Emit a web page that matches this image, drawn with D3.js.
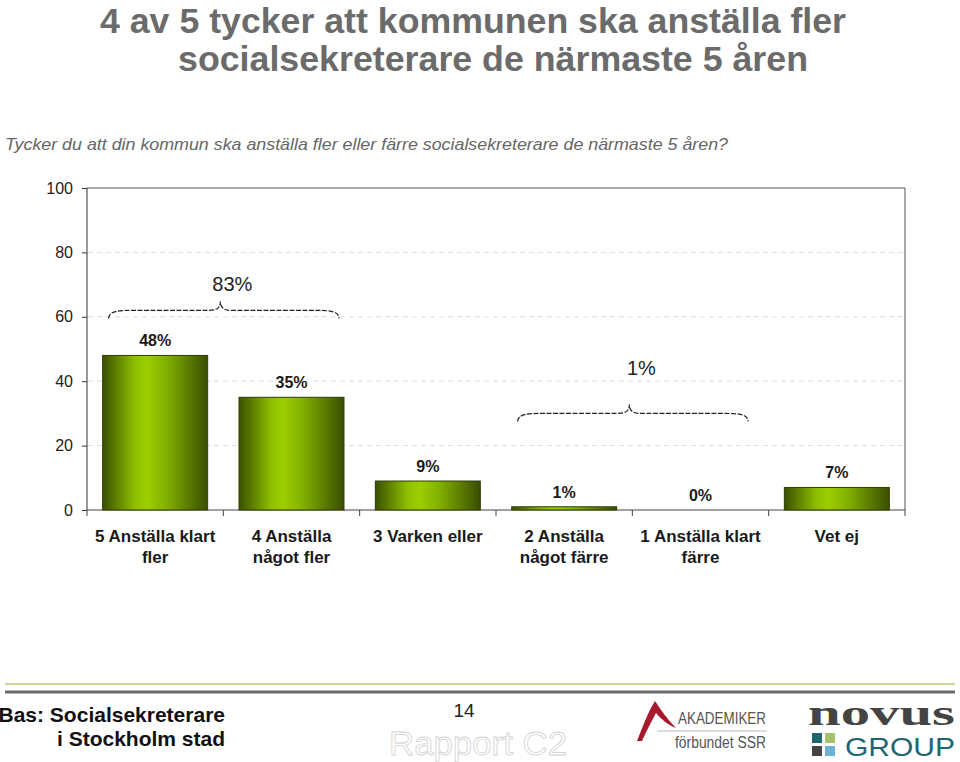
<!DOCTYPE html>
<html><head><meta charset="utf-8">
<script src="https://cdn.jsdelivr.net/npm/d3@7"></script>
<style>body{margin:0;background:#fff}svg{display:block}</style>
</head><body>
<script>
const categories = [["5 Anställa klart","fler"],["4 Anställa","något fler"],["3 Varken eller"],["2 Anställa","något färre"],["1 Anställa klart","färre"],["Vet ej"]];
const values = [48, 35, 9, 1, 0, 7];
const valueLabels = ["48%","35%","9%","1%","0%","7%"];
const yTicks = [0,20,40,60,80,100];
const groups = [{from:0,to:1,label:"83%"},{from:3,to:4,label:"1%"}];
const groupLevel = [59.5, 27.5];
const groupLabelLevel = [68, 42];

const W=960,H=762;
const svg=d3.select("body").append("svg").attr("width",W).attr("height",H);
const narrow="'Liberation Sans Narrow','Arial Narrow',Arial,sans-serif";
const sans="Arial,'Liberation Sans',sans-serif";

// title
svg.append("text").attr("x",473).attr("y",33).attr("text-anchor","middle")
  .attr("font-family",narrow).attr("font-weight","bold").attr("font-size",35).attr("fill","#6b6b6b")
  .attr("textLength",746).attr("lengthAdjust","spacingAndGlyphs")
  .text("4 av 5 tycker att kommunen ska anställa fler");
svg.append("text").attr("x",493).attr("y",71).attr("text-anchor","middle")
  .attr("font-family",narrow).attr("font-weight","bold").attr("font-size",35).attr("fill","#6b6b6b")
  .attr("textLength",630).attr("lengthAdjust","spacingAndGlyphs")
  .text("socialsekreterare de närmaste 5 åren");
svg.append("text").attr("x",5).attr("y",150)
  .attr("font-family",narrow).attr("font-style","italic").attr("font-size",17).attr("fill","#666")
  .attr("textLength",723).attr("lengthAdjust","spacingAndGlyphs")
  .text("Tycker du att din kommun ska anställa fler eller färre socialsekreterare de närmaste 5 åren?");

// scales
const x=d3.scaleBand().domain(d3.range(values.length)).range([87,905]).paddingInner(0.23).paddingOuter(0.115);
const y=d3.scaleLinear().domain([0,100]).range([510,188]);

const defs=svg.append("defs");
const g=defs.append("linearGradient").attr("id","bg").attr("x1","0").attr("x2","1").attr("y1","0").attr("y2","0");
[[0,"#3a5000"],[0.3,"#8cbd00"],[0.42,"#9ccf00"],[0.62,"#7fae00"],[1,"#3a4d00"]].forEach(s=>g.append("stop").attr("offset",s[0]).attr("stop-color",s[1]));

// gridlines
svg.append("g").selectAll("line").data(yTicks.filter(t=>t>0&&t<100)).join("line")
  .attr("x1",88).attr("x2",905).attr("y1",d=>y(d)).attr("y2",d=>y(d))
  .attr("stroke","#dcdcdc").attr("stroke-dasharray","5,4");

// border top/right
svg.append("path").attr("d",`M87,${y(100)}H905V${y(0)}`).attr("fill","none").attr("stroke","#555").attr("stroke-width",1);

// y axis
const ya=svg.append("g").attr("transform","translate(87,0)").call(d3.axisLeft(y).tickValues(yTicks).tickSize(5).tickPadding(9));
ya.selectAll("text").attr("font-family",sans).attr("font-size",16).attr("fill","#222");
ya.selectAll("line,path").attr("stroke","#333");
ya.select(".domain").attr("d",`M0,${y(100)}V${y(0)}`);

// x axis
const xa=svg.append("g").attr("transform",`translate(0,${y(0)})`);
xa.append("line").attr("x1",87).attr("x2",905).attr("stroke","#444");
const step=x.step();
xa.selectAll("line.t").data(d3.range(values.length+1)).join("line").attr("class","t")
  .attr("x1",i=>87+i*step).attr("x2",i=>87+i*step).attr("y1",0).attr("y2",6).attr("stroke","#444");

// bars
svg.append("g").selectAll("rect").data(values).join("rect")
  .attr("x",(d,i)=>x(i)).attr("width",x.bandwidth())
  .attr("y",d=>y(d)).attr("height",d=>y(0)-y(d))
  .attr("fill","url(#bg)").attr("stroke",d=>d>0?"#2f3d00":"none").attr("stroke-width",1);

// value labels
svg.append("g").selectAll("text").data(values).join("text")
  .attr("x",(d,i)=>x(i)+x.bandwidth()/2).attr("y",d=>y(d)-9)
  .attr("text-anchor","middle").attr("font-family",sans).attr("font-weight","bold").attr("font-size",16).attr("fill","#1a1a1a")
  .text((d,i)=>valueLabels[i]);

// category labels
const cl=svg.append("g").selectAll("text").data(categories).join("text")
  .attr("x",(d,i)=>x(i)+x.bandwidth()/2).attr("y",542)
  .attr("text-anchor","middle").attr("font-family",narrow).attr("font-weight","bold").attr("font-size",17).attr("fill","#1a1a1a");
cl.selectAll("tspan").data(d=>d).join("tspan").attr("x",function(){return this.parentNode.getAttribute("x");})
  .attr("dy",(d,i)=>i?21:0).text(d=>d);

// braces
groups.forEach((gr,k)=>{
  const x0=x(gr.from)+6, x1=x(gr.to)+x.bandwidth()-5;
  const by=y(groupLevel[k]);
  const mid=(x(gr.from)+x(gr.to)+x.bandwidth())/2 - 3;
  const yl=by-8, ytip=by-17;
  const d=`M${x0},${by} C${x0},${yl} ${x0+12},${yl} ${x0+24},${yl} L${mid-12},${yl} C${mid-4},${yl} ${mid},${yl-2} ${mid},${ytip} C${mid},${yl-2} ${mid+4},${yl} ${mid+12},${yl} L${x1-24},${yl} C${x1-12},${yl} ${x1},${yl} ${x1},${by}`;
  svg.append("path").attr("d",d).attr("fill","none").attr("stroke","#222").attr("stroke-width",1.2).attr("stroke-dasharray","5,1.5");
  svg.append("text").attr("x",mid+12).attr("y",y(groupLabelLevel[k])).attr("text-anchor","middle")
    .attr("font-family",sans).attr("font-size",20).attr("fill","#222").text(gr.label);
});

// footer
svg.append("line").attr("x1",5).attr("x2",955).attr("y1",684).attr("y2",684).attr("stroke","#c9d89a").attr("stroke-width",2);
svg.append("line").attr("x1",5).attr("x2",955).attr("y1",692).attr("y2",692).attr("stroke","#6a6a6a").attr("stroke-width",3);
svg.append("text").attr("x",225).attr("y",722).attr("text-anchor","end").attr("font-family",narrow).attr("font-weight","bold").attr("font-size",21).attr("fill","#111").text("Bas: Socialsekreterare");
svg.append("text").attr("x",225).attr("y",746).attr("text-anchor","end").attr("font-family",narrow).attr("font-weight","bold").attr("font-size",21).attr("fill","#111").text("i Stockholm stad");
svg.append("text").attr("x",464).attr("y",717).attr("text-anchor","middle").attr("font-family",narrow).attr("font-size",19).attr("fill","#222").text("14");
svg.append("text").attr("x",478).attr("y",755).attr("text-anchor","middle").attr("font-family",sans).attr("font-size",33).attr("fill","#fff").attr("stroke","#d2d2d2").attr("stroke-width",0.8)
  .attr("textLength",178).attr("lengthAdjust","spacingAndGlyphs").text("Rapport C2");

// Akademiker logo
svg.append("path").attr("d","M637,741 C643,726 648,712 655,701 C661,710 667,719 676,728 C668,725 661,719 656,713 C651,722 646,732 642,741Z").attr("fill","#a8192e");
svg.append("text").attr("x",678).attr("y",724).attr("font-family",narrow).attr("font-size",16).attr("fill","#555").attr("textLength",88).attr("lengthAdjust","spacingAndGlyphs").text("AKADEMIKER");
svg.append("line").attr("x1",657).attr("x2",767).attr("y1",731).attr("y2",731).attr("stroke","#bbb").attr("stroke-width",1);
svg.append("text").attr("x",675).attr("y",748).attr("font-family",narrow).attr("font-size",16).attr("fill","#555").attr("textLength",91).attr("lengthAdjust","spacingAndGlyphs").text("förbundet SSR");

// Novus logo
svg.append("text").attr("x",808).attr("y",725).attr("font-family","'Liberation Serif','DejaVu Serif',serif").attr("font-weight","bold").attr("font-size",36).attr("fill","#444")
  .attr("textLength",147).attr("lengthAdjust","spacingAndGlyphs").text("novus");
[[812,733,"#1f6673"],[825,733,"#a3c26a"],[812,746,"#444"],[825,746,"#6cb3d3"]].forEach(s=>svg.append("rect").attr("x",s[0]).attr("y",s[1]).attr("width",10).attr("height",10).attr("fill",s[2]));
svg.append("text").attr("x",845).attr("y",756).attr("font-family",sans).attr("font-size",26).attr("fill","#1f6673")
  .attr("textLength",110).attr("lengthAdjust","spacingAndGlyphs").text("GROUP");
</script>
</body></html>
